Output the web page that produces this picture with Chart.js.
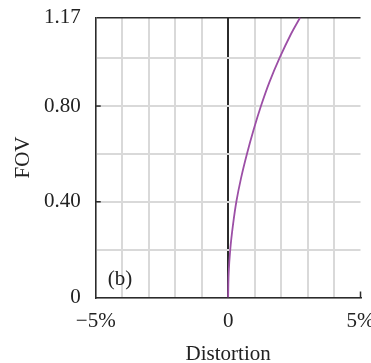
<!DOCTYPE html>
<html>
<head>
<meta charset="utf-8">
<script src="https://cdn.jsdelivr.net/npm/chart.js@4.4.1/dist/chart.umd.min.js"></script>
<style>
  html, body { margin: 0; padding: 0; background: #fff; overflow: hidden; width: 371px; height: 363px; }
  #wrap { position: relative; top: -8.5px; width: 388px; height: 371.5px; }
</style>
</head>
<body>
<div id="wrap"><canvas id="chart"></canvas></div>
<script>
// FOV (normalised) vs distortion (%)
const fov = [0, 0.1, 0.2, 0.3, 0.4, 0.5, 0.6, 0.7, 0.8, 0.9, 1.0, 1.1, 1.17];
const distortion = [0, 0.02, 0.08, 0.18, 0.31, 0.49, 0.71, 0.96, 1.24, 1.56, 1.94, 2.37, 2.72];

const xTickValues = [-5, -4, -3, -2, -1, 0, 1, 2, 3, 4, 5];
const xTickLabels = ["\u22125%", "", "", "", "", "0", "", "", "", "", "5%"];
const yTickValues = [0, 0.2, 0.4, 0.6, 0.8, 1.0, 1.17];
const yTickLabels = ["0", "", "0.40", "", "0.80", "", "1.17"];

const FONT = "'Liberation Serif', 'DejaVu Serif', serif";
const GRID = "#d9d9d9";
const DARK = "#2b2b2b";

const extras = {
  id: "extras",
  afterDraw(chart) {
    const { ctx, chartArea: a, scales } = chart;
    ctx.save();
    ctx.strokeStyle = DARK;
    ctx.lineWidth = 1.5;
    // small inside tick marks
    [0.4, 0.8].forEach((v) => {
      const y = scales.y.getPixelForValue(v);
      ctx.beginPath();
      ctx.moveTo(a.left, y);
      ctx.lineTo(a.left + 5, y);
      ctx.stroke();
    });
    const xr = scales.x.getPixelForValue(5);
    ctx.beginPath();
    ctx.moveTo(xr, a.bottom);
    ctx.lineTo(xr, a.bottom - 6);
    ctx.stroke();
    // panel label
    ctx.fillStyle = "#222";
    ctx.font = "21px " + FONT;
    ctx.textAlign = "left";
    ctx.textBaseline = "middle";
    ctx.fillText("(b)", a.left + 12, a.bottom - 18);
    ctx.restore();
  },
};

new Chart(document.getElementById("chart"), {
  type: "scatter",
  data: {
    datasets: [
      {
        data: fov.map((f, i) => ({ x: distortion[i], y: f })),
        showLine: true,
        borderColor: "#9c4fa6",
        borderWidth: 1.8,
        pointRadius: 0,
        tension: 0.35,
      },
    ],
  },
  options: {
    responsive: true,
    maintainAspectRatio: false,
    animation: false,
    layout: { padding: { top: 0, left: 0, right: 0, bottom: 0 } },
    plugins: { legend: { display: false }, tooltip: { enabled: false } },
    scales: {
      x: {
        type: "linear",
        min: -5,
        max: 5,
        afterBuildTicks: (s) => { s.ticks = xTickValues.map((v) => ({ value: v })); },
        ticks: {
          autoSkip: false,
          maxRotation: 0,
          padding: 13.5,
          color: "#222",
          font: { family: FONT, size: 21, lineHeight: 1 },
          callback: (v) => xTickLabels[xTickValues.indexOf(v)] ?? "",
        },
        grid: {
          drawTicks: false,
          color: (c) => (c.tick && c.tick.value === 0 ? DARK : c.tick && c.tick.value === 5 ? "rgba(0,0,0,0)" : GRID),
          lineWidth: 2,
        },
        border: { color: DARK, width: 1.5 },
        title: {
          display: true,
          text: "Distortion",
          color: "#222",
          font: { family: FONT, size: 21, lineHeight: 1 },
          padding: { top: -1.5, bottom: -1.5 },
        },
      },
      y: {
        type: "linear",
        min: 0,
        max: 1.17,
        afterBuildTicks: (s) => { s.ticks = yTickValues.map((v) => ({ value: v })); },
        ticks: {
          autoSkip: false,
          padding: 15,
          color: "#222",
          font: { family: FONT, size: 21, lineHeight: 1 },
          callback: (v) => yTickLabels[yTickValues.indexOf(v)] ?? "",
        },
        grid: {
          drawTicks: false,
          color: (c) => (c.tick && c.tick.value === 1.17 ? DARK : GRID),
          lineWidth: (c) => (c.tick && c.tick.value === 1.17 ? 1.5 : 2),
        },
        border: { color: DARK, width: 1.5 },
        title: {
          display: true,
          text: "FOV",
          color: "#222",
          font: { family: FONT, size: 21, lineHeight: 1 },
          padding: { top: 12.5, bottom: -4.5 },
        },
      },
    },
  },
  plugins: [extras],
});
</script>
</body>
</html>
